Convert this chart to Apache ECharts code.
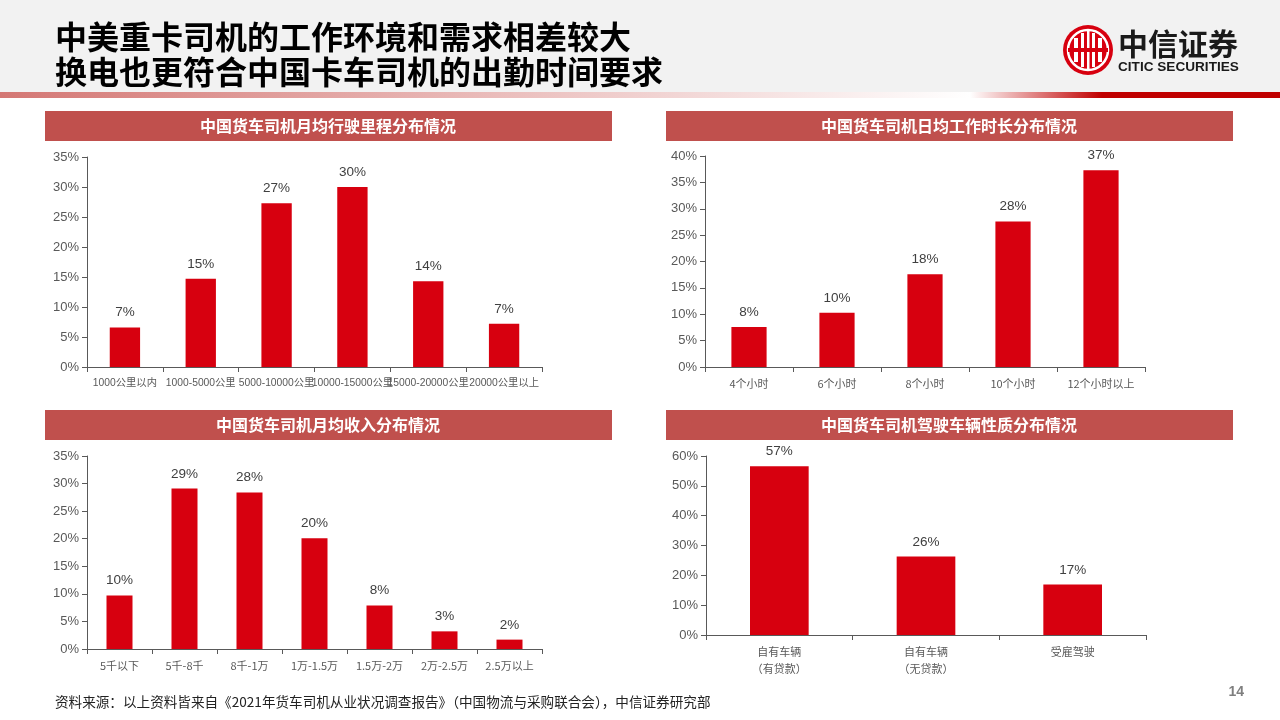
<!DOCTYPE html>
<html><head><meta charset="utf-8">
<script src="https://cdn.jsdelivr.net/npm/echarts@6/dist/echarts.min.js"></script>
<style>html,body{margin:0;padding:0;background:#fff}#c{width:1280px;height:720px}</style>
</head><body><div id="c"></div>
<script>
const titleLines = ['中美重卡司机的工作环境和需求相差较大', '换电也更符合中国卡车司机的出勤时间要求'];
const panelTitles = ['中国货车司机月均行驶里程分布情况', '中国货车司机日均工作时长分布情况', '中国货车司机月均收入分布情况', '中国货车司机驾驶车辆性质分布情况'];
const mileageCats = ['1000公里以内', '1000-5000公里', '5000-10000公里', '10000-15000公里', '15000-20000公里', '20000公里以上'];
const mileageVals = [6.6, 14.7, 27.3, 30.0, 14.3, 7.2];
const hourCats = ['4个小时', '6个小时', '8个小时', '10个小时', '12个小时以上'];
const hourVals = [7.6, 10.3, 17.6, 27.6, 37.3];
const incomeCats = ['5千以下', '5千-8千', '8千-1万', '1万-1.5万', '1.5万-2万', '2万-2.5万', '2.5万以上'];
const incomeVals = [9.7, 29.1, 28.4, 20.1, 7.9, 3.2, 1.7];
const vehicleCats = ['自有车辆\n（有贷款）', '自有车辆\n（无贷款）', '受雇驾驶'];
const vehicleVals = [56.6, 26.3, 16.9];
const yMax = [35, 40, 35, 60];
const yStep = [5, 5, 5, 10];
const footnote = '资料来源：以上资料皆来自《2021年货车司机从业状况调查报告》（中国物流与采购联合会），中信证券研究部';
const pageNo = '14';

const FONT = '"Liberation Sans", "Noto Sans CJK SC", sans-serif';
const CJK = '"Noto Sans CJK SC", "Liberation Sans", sans-serif';
const RED = '#d7000f';
const AX = '#595959';

const grids = [
  {left: 87, right: 738, top: 157, bottom: 353},
  {left: 705, right: 135, top: 156, bottom: 353},
  {left: 87, right: 738, top: 456, bottom: 71},
  {left: 706, right: 134, top: 456, bottom: 85}
];
const cats = [mileageCats, hourCats, incomeCats, vehicleCats];
const vals = [mileageVals, hourVals, incomeVals, vehicleVals];
const xFamily = [FONT, CJK, CJK, CJK];
const xFont = [10.3, 11, 11, 11];

const xAxis = cats.map((c, i) => ({
  type: 'category', gridIndex: i, data: c,
  axisLine: {lineStyle: {color: AX, width: 1}},
  axisTick: {show: true, length: 5, lineStyle: {color: AX}},
  axisLabel: {color: AX, fontSize: xFont[i], fontFamily: xFamily[i], interval: 0, margin: 8, lineHeight: 17, hideOverlap: false}
}));
const yAxis = yMax.map((m, i) => ({
  type: 'value', gridIndex: i, min: 0, max: m, interval: yStep[i],
  axisLine: {show: true, lineStyle: {color: AX, width: 1}},
  axisTick: {show: true, length: 5, lineStyle: {color: AX}},
  splitLine: {show: false},
  axisLabel: {color: AX, fontSize: 13, fontFamily: FONT, formatter: '{value}%', margin: 8}
}));
const series = vals.map((v, i) => ({
  type: 'bar', xAxisIndex: i, yAxisIndex: i, data: v, barWidth: '40%',
  itemStyle: {color: RED},
  label: {show: true, position: 'top', distance: 8, color: '#404040', fontSize: 13.5, fontFamily: FONT,
    formatter: p => Math.round(p.value) + '%'}
}));

const panels = [[45, 111], [666, 111], [45, 410], [666, 410]];
const graphic = [
  {type: 'rect', shape: {x: 0, y: 0, width: 1280, height: 92}, style: {fill: '#f2f2f2'}, silent: true},
  {type: 'rect', shape: {x: 0, y: 92, width: 970, height: 6}, style: {fill: new echarts.graphic.LinearGradient(0, 0, 1, 0, [{offset: 0, color: '#d47774'}, {offset: 1, color: '#ffffff'}])}},
  {type: 'rect', shape: {x: 970, y: 92, width: 132, height: 6}, style: {fill: new echarts.graphic.LinearGradient(0, 0, 1, 0, [{offset: 0, color: '#ffffff'}, {offset: 1, color: '#c00000'}])}},
  {type: 'rect', shape: {x: 1102, y: 92, width: 178, height: 6}, style: {fill: '#c00000'}},
  {type: 'text', x: 55, y: 37, style: {text: titleLines[0], font: 'bold 32px "Noto Sans CJK SC", sans-serif', fill: '#000', verticalAlign: 'middle'}},
  {type: 'text', x: 55, y: 72, style: {text: titleLines[1], font: 'bold 32px "Noto Sans CJK SC", sans-serif', fill: '#000', verticalAlign: 'middle'}},
  // logo
  {type: 'circle', shape: {cx: 1088, cy: 50, r: 25}, style: {fill: '#d7000f'}},
  {type: 'circle', shape: {cx: 1088, cy: 50, r: 20}, style: {fill: 'none', stroke: '#fff', lineWidth: 2.5}},
  {type: 'rect', shape: {x: 1074, y: 38, width: 4, height: 24}, style: {fill: '#fff'}},
  {type: 'rect', shape: {x: 1081, y: 33, width: 3, height: 34}, style: {fill: '#fff'}},
  {type: 'rect', shape: {x: 1087, y: 31, width: 2.5, height: 38}, style: {fill: '#fff'}},
  {type: 'rect', shape: {x: 1092, y: 33, width: 3, height: 34}, style: {fill: '#fff'}},
  {type: 'rect', shape: {x: 1098, y: 38, width: 4, height: 24}, style: {fill: '#fff'}},
  {type: 'rect', shape: {x: 1068, y: 48, width: 40, height: 4}, style: {fill: '#d7000f'}},
  {type: 'text', x: 1118, y: 44, style: {text: '中信证券', font: 'bold 30px "Noto Sans CJK SC", sans-serif', fill: '#1a1a1a', verticalAlign: 'middle'}},
  {type: 'text', x: 1118, y: 67, style: {text: 'CITIC SECURITIES', font: 'bold 13.6px "Liberation Sans", sans-serif', fill: '#1a1a1a', verticalAlign: 'middle'}},
  {type: 'text', x: 55, y: 702, style: {text: footnote, font: '13.6px "Noto Sans CJK SC", sans-serif', fill: '#222', verticalAlign: 'middle'}},
  {type: 'text', x: 1244, y: 692, style: {text: pageNo, font: 'bold 14px "Liberation Sans", sans-serif', fill: '#7f7f7f', verticalAlign: 'middle', align: 'right'}}
];
panels.forEach((p, i) => {
  graphic.push({type: 'rect', shape: {x: p[0], y: p[1], width: 567, height: 30}, style: {fill: '#c0504d'}});
  graphic.push({type: 'text', x: p[0] + 283, y: p[1] + 15, style: {text: panelTitles[i], font: 'bold 16px "Noto Sans CJK SC", sans-serif', fill: '#fff', align: 'center', verticalAlign: 'middle'}});
});

const chart = echarts.init(document.getElementById('c'));
chart.setOption({
  animation: false,
  backgroundColor: '#fff',
  grid: grids,
  xAxis: xAxis,
  yAxis: yAxis,
  series: series,
  graphic: graphic
});
</script></body></html>
